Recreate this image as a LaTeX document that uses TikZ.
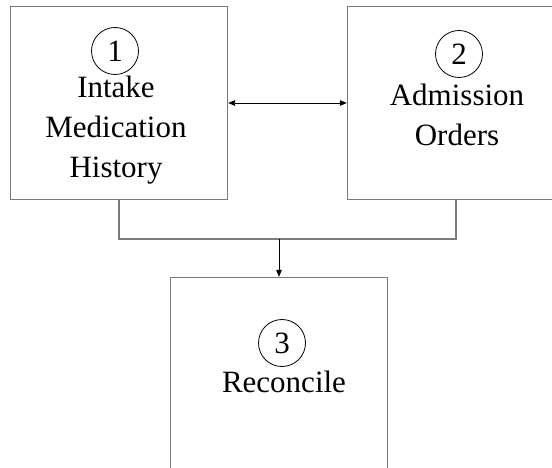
\documentclass[tikz,border=0pt]{standalone}
\usepackage{fontspec}
\setmainfont{Liberation Serif}
\usetikzlibrary{arrows.meta,calc}
\definecolor{ink}{HTML}{000000}
\definecolor{edgegray}{HTML}{7A7A7A}
\tikzset{
  font=\fontsize{31}{40}\selectfont,
  >={Triangle[length=7pt,width=5.5pt]},
  stepbox/.style={draw=edgegray, line width=1.3pt, fill=white,
    minimum width=217pt, minimum height=193pt, inner sep=0pt},
  numcirc/.style={draw=ink, circle, line width=.8pt,
    minimum size=47pt, inner sep=0pt},
  steptext/.style={align=center, inner sep=0pt, text=ink},
  link/.style={draw=edgegray, line width=1.3pt},
  flow/.style={draw=ink, line width=1pt, ->},
  twoway/.style={draw=ink, line width=.9pt, <->}
}

\begin{document}
\begin{tikzpicture}[x=1pt,y=1pt]
  \useasboundingbox (0,0) rectangle (552,-468);

  % boxes
  \node[stepbox] (intake) at (119,-103) {};
  \node[stepbox] (admit) at (456,-103) {};
  \node[stepbox] (reconcile) at (279,-374) {};

  % numbers and labels
  \node[numcirc] (num1) at (115,-51) {1};
  \node[steptext] (intakeText) at (116,-130) {Intake\\Medication\\History};
  \node[numcirc] (num2) at (459,-54) {2};
  \node[steptext] (admitText) at (457,-114.5) {Admission\\Orders};
  \node[numcirc] (num3) at (282,-343) {3};
  \node[steptext] (reconcileText) at (284,-381.5) {Reconcile};

  % connectors
  \coordinate (join) at (279,-239);
  \draw[twoway] (intake.east) -- (admit.west);
  \draw[link] (intake.south) |- (join) -| (admit.south);
  \draw[flow] (join) -- (reconcile.north);
\end{tikzpicture}
\end{document}
